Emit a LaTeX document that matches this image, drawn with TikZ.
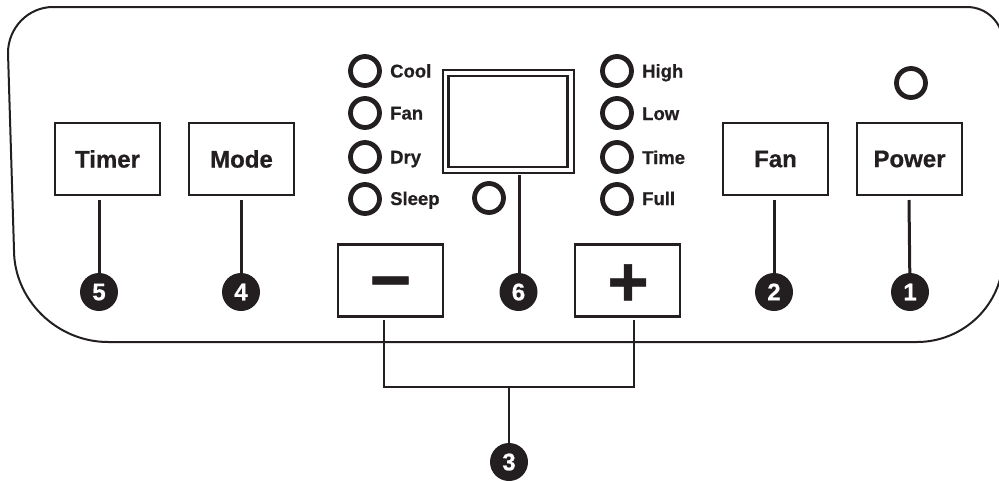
\documentclass[tikz,border=0pt]{standalone}
\usepackage{fontspec}
\setmainfont{Liberation Sans}[BoldFeatures={FakeBold=0.7}]
\definecolor{ink}{RGB}{35,31,32}
\begin{document}
\begin{tikzpicture}[x=1pt,y=-1pt,
 btn/.style={draw=ink, line width=2.7pt, minimum width=105pt, minimum height=72pt, inner sep=0pt, font=\fontsize{24}{24}\selectfont\bfseries, text=ink},
 led/.style={circle, draw=ink, line width=4.8pt, minimum size=29pt, inner sep=0pt},
 num/.style={circle, fill=ink, minimum size=38pt, inner sep=0pt, text=white, font=\fontsize{24}{24}\selectfont\bfseries},
 lbl/.style={anchor=base west, inner sep=0pt, font=\fontsize{18.5}{18.5}\selectfont\bfseries, text=ink},
 conn/.style={draw=ink, line width=3pt},
 panel/.style={draw=ink, line width=2pt},
 sym/.style={anchor=base, inner sep=0pt, font=\fontsize{71}{71}\selectfont\bfseries, text=ink}
]
\useasboundingbox (0,0) rectangle (999,480);
\clip (0,0) rectangle (999,480);
% panel outline
\draw[panel] (53,7) -- (967,7) .. controls (987,7) and (1003,23) .. (1003,43)
  -- (1003,257) .. controls (1003,304) and (964,342) .. (917,342)
  -- (108,342) .. controls (57,342) and (14,300) .. (14,250)
  -- (8,53) .. controls (8,28) and (28,7) .. (53,7) -- cycle;
% buttons
\node[btn] (timer) at (107.5,159) {Timer};
\node[btn] (mode) at (241.5,159) {Mode};
\node[btn] (fan) at (775.5,159) {Fan};
\node[btn] (power) at (909.5,159) {Power};
\node[btn] (minus) at (390.5,280.5) {};
\node[btn] (plus) at (627.5,280.5) {};
\node[sym] (minussym) at (390.5,304) {\symbol{"2212}};
\node[sym] (plussym) at (628,306) {+};
% display
\node[draw=ink, line width=2pt, minimum width=131pt, minimum height=103pt, inner sep=0pt] (disp) at (508.5,121.5) {};
\node[draw=ink, line width=2.6pt, minimum width=119pt, minimum height=91pt, inner sep=0pt] (dispin) at (507.8,121.3) {};
% LEDs left
\node[led] (lcool) at (365,71) {};
\node[led] (lfan) at (365,113) {};
\node[led] (ldry) at (365,157) {};
\node[led] (lsleep) at (365,199) {};
\node[lbl] (tcool) at (390,77.5) {Cool};
\node[lbl] (tfan) at (390,119.5) {Fan};
\node[lbl] (tdry) at (390,163.5) {Dry};
\node[lbl] (tsleep) at (390,205) {Sleep};
% LEDs right
\node[led] (lhigh) at (617,71) {};
\node[led] (llow) at (617,113) {};
\node[led] (ltime) at (617,157) {};
\node[led] (lfull) at (617,199) {};
\node[lbl] (thigh) at (642,77.5) {High};
\node[lbl] (tlow) at (642,120) {Low};
\node[lbl] (ttime) at (642,164) {Time};
\node[lbl] (tfull) at (642,205) {Full};
% other LEDs
\node[led] (ldisp) at (489,198) {};
\node[led] (lpower) at (911,83) {};
% numbers
\node[num] (n5) at (99,292) {5};
\node[num] (n4) at (241,292) {4};
\node[num] (n6) at (518.5,292) {6};
\node[num] (n2) at (774,292) {2};
\node[num] (n1) at (910,292) {1};
\node[num] (n3) at (509,462) {3};
% connector ends
\coordinate (c5) at (99,200);
\coordinate (c4) at (241,200);
\coordinate (c2) at (774,200);
\coordinate (c1) at (909,200);
\coordinate (c6) at (519,175);
\coordinate (bm) at (384,320);
\coordinate (bp) at (634,320);
\coordinate (bj) at (509,387);
\draw[conn] (c5) -- (n5);
\draw[conn] (c4) -- (n4);
\draw[conn] (c2) -- (n2);
\draw[conn] (c1) -- (n1);
\draw[conn] (c6) -- (c6 |- n6.north);
\draw[conn, line width=2.7pt] (bm) |- (bj) -| (bp);
\draw[conn, line width=2.7pt] (bj) -- (n3);
\end{tikzpicture}
\end{document}
